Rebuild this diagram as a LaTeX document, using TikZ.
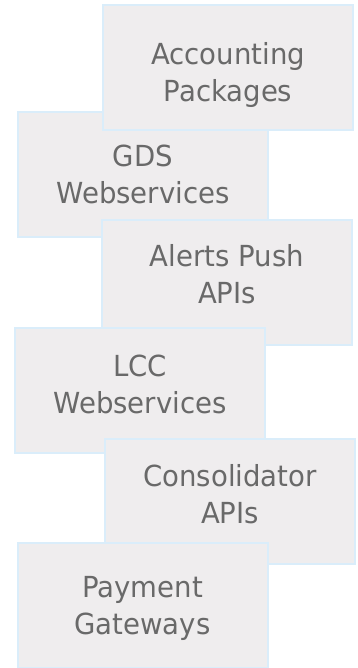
\documentclass[tikz,border=0pt]{standalone}
\usepackage{fontspec}
\setmainfont{DejaVu Sans}[FakeStretch=0.95]
\definecolor{boxfill}{RGB}{239,237,238}
\definecolor{boxline}{RGB}{218,237,250}
\definecolor{txt}{RGB}{105,105,105}
\begin{document}
\begin{tikzpicture}[x=1pt,y=-1pt,
  box/.style={draw=boxline, fill=boxfill, line width=2pt, minimum width=250pt, minimum height=125pt, inner sep=0pt},
  lbl/.style={inner sep=0pt, align=center, text=txt, font=\fontsize{29}{37}\selectfont}]
\useasboundingbox (0,0) rectangle (358,668);
\node[box] (gds) at (143,174.5) {};
\node[lbl] (gdst) at (gds.center) {GDS\\Webservices};
\node[box] (acc) at (228,67.5) {};
\node[lbl, yshift=-7.5pt] (acct) at (acc.center) {Accounting\\Packages};
\node[box] (alerts) at (227,282.5) {};
\node[lbl, yshift=8pt] (alertst) at (alerts.center) {Alerts Push\\APIs};
\node[box] (lcc) at (140,390.5) {};
\node[lbl, yshift=6pt] (lcct) at (lcc.center) {LCC\\Webservices};
\node[box] (cons) at (230,501) {};
\node[lbl, yshift=7pt] (const) at (cons.center) {Consolidator\\APIs};
\node[box] (pay) at (142.5,605) {};
\node[lbl, yshift=-3pt] (payt) at (pay.center) {Payment\\Gateways};
\end{tikzpicture}
\end{document}
